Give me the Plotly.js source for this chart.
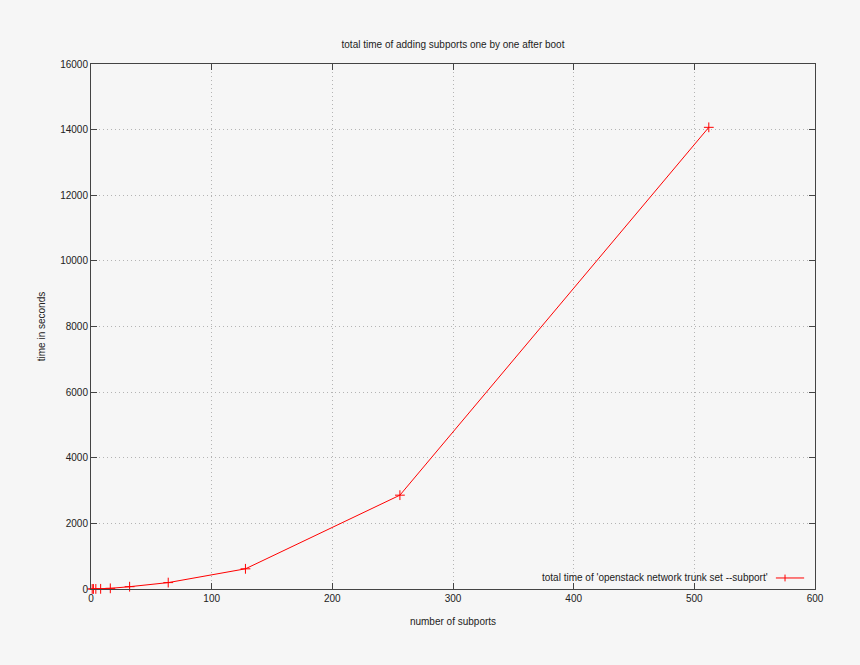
<!DOCTYPE html>
<html>
<head>
<meta charset="utf-8">
<script src="https://cdn.plot.ly/plotly-3.0.1.min.js"></script>
<style>html,body{margin:0;padding:0;background:#f6f6f6;}#chart{width:860px;height:665px;}</style>
</head>
<body>
<div id="chart"></div>
<script>
const subports = [1, 2, 4, 8, 16, 32, 64, 128, 256, 512];
const totalSeconds = [0.5, 1, 2, 5, 20, 70, 195, 615, 2860, 14070];
const seriesName = "total time of 'openstack network trunk set --subport'";
const xTicks = [0, 100, 200, 300, 400, 500, 600];
const yTicks = [0, 2000, 4000, 6000, 8000, 10000, 12000, 14000, 16000];

const fontFam = '"Liberation Sans", Arial, sans-serif';
const txt = {family: fontFam, size: 10, color: '#222'};
const trace = {
  x: subports, y: totalSeconds, type: 'scatter', mode: 'lines+markers',
  name: seriesName,
  line: {color: '#ff0000', width: 1},
  marker: {symbol: 'cross-thin-open', size: 7, color: '#ff0000', line: {color: '#ff0000', width: 1}},
  showlegend: false, cliponaxis: false
};
const axisCommon = {
  showline: true, linecolor: '#444', linewidth: 1, mirror: 'allticks',
  ticks: 'inside', ticklen: 6, tickcolor: '#444', tickwidth: 1,
  showgrid: true, gridcolor: '#b4b4b4', griddash: '1px,3px', gridwidth: 1,
  zeroline: false, tickfont: txt
};
const layout = {
  width: 860, height: 665,
  paper_bgcolor: '#f6f6f6', plot_bgcolor: '#f6f6f6',
  margin: {l: 91, r: 45, t: 64, b: 76},
  font: txt,
  title: {text: 'total time of adding subports one by one after boot', xref: 'paper', x: 0.5, xanchor: 'center', y: 0.933, yanchor: 'middle', font: txt},
  xaxis: Object.assign({}, axisCommon, {range: [0, 600], tickvals: xTicks, ticktext: xTicks.map(String),
    title: {text: 'number of subports', standoff: 14, font: txt}}),
  yaxis: Object.assign({}, axisCommon, {range: [0, 16000], tickvals: yTicks, ticktext: yTicks.map(String),
    title: {text: 'time in seconds', standoff: 12, font: txt}}),
  annotations: [{
    xref: 'paper', yref: 'paper', x: 0.938, y: 0.021, xanchor: 'right', yanchor: 'middle',
    text: seriesName, showarrow: false, font: txt
  }],
  shapes: [
    {type: 'line', xref: 'paper', yref: 'paper', x0: 0.946, x1: 0.985, y0: 0.021, y1: 0.021, line: {color: '#ff0000', width: 1}},
    {type: 'line', xref: 'paper', yref: 'paper', x0: 0.9586, x1: 0.9586, y0: 0.0145, y1: 0.0275, line: {color: '#ff0000', width: 1}}
  ]
};
Plotly.newPlot('chart', [trace], layout, {displayModeBar: false, staticPlot: true});
</script>
</body>
</html>
